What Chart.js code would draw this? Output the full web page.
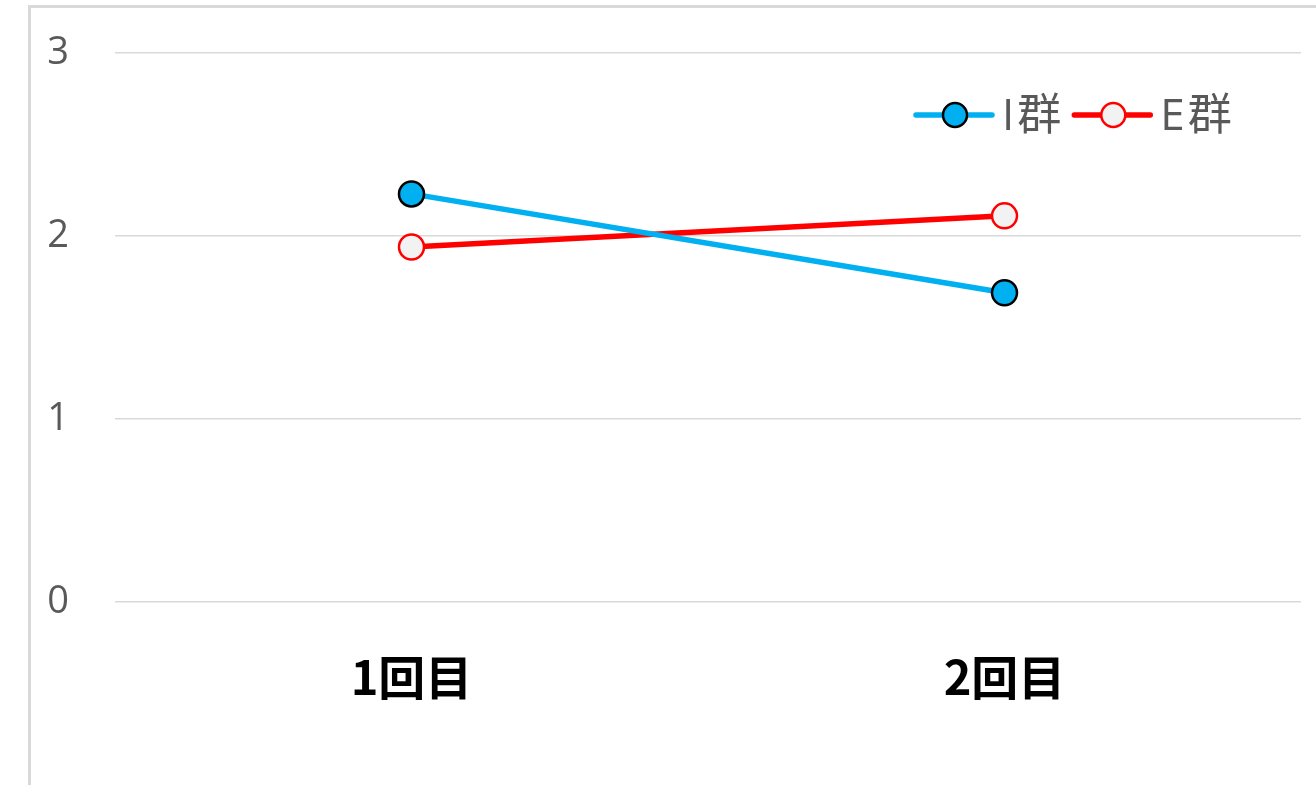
<!DOCTYPE html>
<html>
<head>
<meta charset="utf-8">
<script src="https://cdn.jsdelivr.net/npm/chart.js@4/dist/chart.umd.min.js"></script>
<style>
  html, body { margin: 0; padding: 0; background: #fff; overflow: hidden; }
  #frame {
    position: absolute; left: 28px; top: 5px;
    width: 1400px; height: 900px;
    border: 3px solid #d9d9d9; box-sizing: border-box;
  }
  #wrap { position: absolute; left: 0; top: 0; width: 1316px; height: 785px; }
</style>
</head>
<body>
<div id="frame"></div>
<div id="wrap"><canvas id="chart" width="1316" height="785"></canvas></div>
<script>
// categories and series
const rounds = ['1回目', '2回目'];
const groupI = [2.23, 1.69];
const groupE = [1.94, 2.11];
const yTicks = [0, 1, 2, 3];

const numFont = '"Open Sans", "Noto Sans CJK JP", sans-serif';

// legend drawn inside the plot, top right
const lineLegend = {
  id: 'lineLegend',
  afterDraw(chart) {
    const ctx = chart.ctx;
    let x = 916;
    const y = 115;
    ctx.save();
    ctx.font = '44px ' + numFont;
    ctx.letterSpacing = '3px';
    ctx.textBaseline = 'middle';
    chart.data.datasets.forEach(ds => {
      ctx.strokeStyle = ds.borderColor;
      ctx.lineWidth = 5.5;
      ctx.lineCap = 'round';
      ctx.beginPath();
      ctx.moveTo(x, y);
      ctx.lineTo(x + 76, y);
      ctx.stroke();
      ctx.beginPath();
      ctx.arc(x + 39, y, 12, 0, Math.PI * 2);
      ctx.fillStyle = ds.pointBackgroundColor;
      ctx.fill();
      ctx.lineWidth = 2.5;
      ctx.strokeStyle = ds.pointBorderColor;
      ctx.stroke();
      ctx.fillStyle = '#595959';
      ctx.fillText(ds.label, x + 86, y + 2);
      x += 86 + ctx.measureText(ds.label).width + 10;
    });
    ctx.restore();
  }
};

new Chart(document.getElementById('chart'), {
  type: 'line',
  data: {
    labels: rounds,
    datasets: [
      {
        label: 'I群', data: groupI,
        borderColor: '#00b0f0', borderWidth: 5.5,
        pointBackgroundColor: '#00b0f0', pointBorderColor: '#000000',
        pointBorderWidth: 2.5, pointRadius: 12.5
      },
      {
        label: 'E群', data: groupE,
        borderColor: '#ff0000', borderWidth: 5.5,
        pointBackgroundColor: '#f2f2f2', pointBorderColor: '#ff0000',
        pointBorderWidth: 2.5, pointRadius: 12.5
      }
    ]
  },
  options: {
    responsive: false,
    animation: false,
    layout: { padding: { top: 53, right: 14, left: 0, bottom: 0 } },
    plugins: { legend: { display: false }, tooltip: { enabled: false } },
    scales: {
      x: {
        offset: true,
        grid: { display: false, drawTicks: false },
        border: { display: false },
        ticks: {
          color: '#000000', padding: 47,
          font: { family: '"Noto Sans CJK JP", sans-serif', size: 47, weight: 'bold' }
        },
        afterFit(axis) { axis.height = 183; }
      },
      y: {
        min: yTicks[0], max: yTicks[yTicks.length - 1],
        afterBuildTicks(axis) { axis.ticks = yTicks.map(v => ({ value: v })); },
        grid: { color: '#d9d9d9', lineWidth: 1.5, drawTicks: false },
        border: { display: false },
        ticks: { color: '#595959', padding: 46, font: { family: numFont, size: 38 } },
        afterFit(axis) {
          axis.width = 115;
          axis.paddingTop = 0;
          axis.paddingBottom = 0;
        }
      }
    }
  },
  plugins: [lineLegend]
});
</script>
</body>
</html>
